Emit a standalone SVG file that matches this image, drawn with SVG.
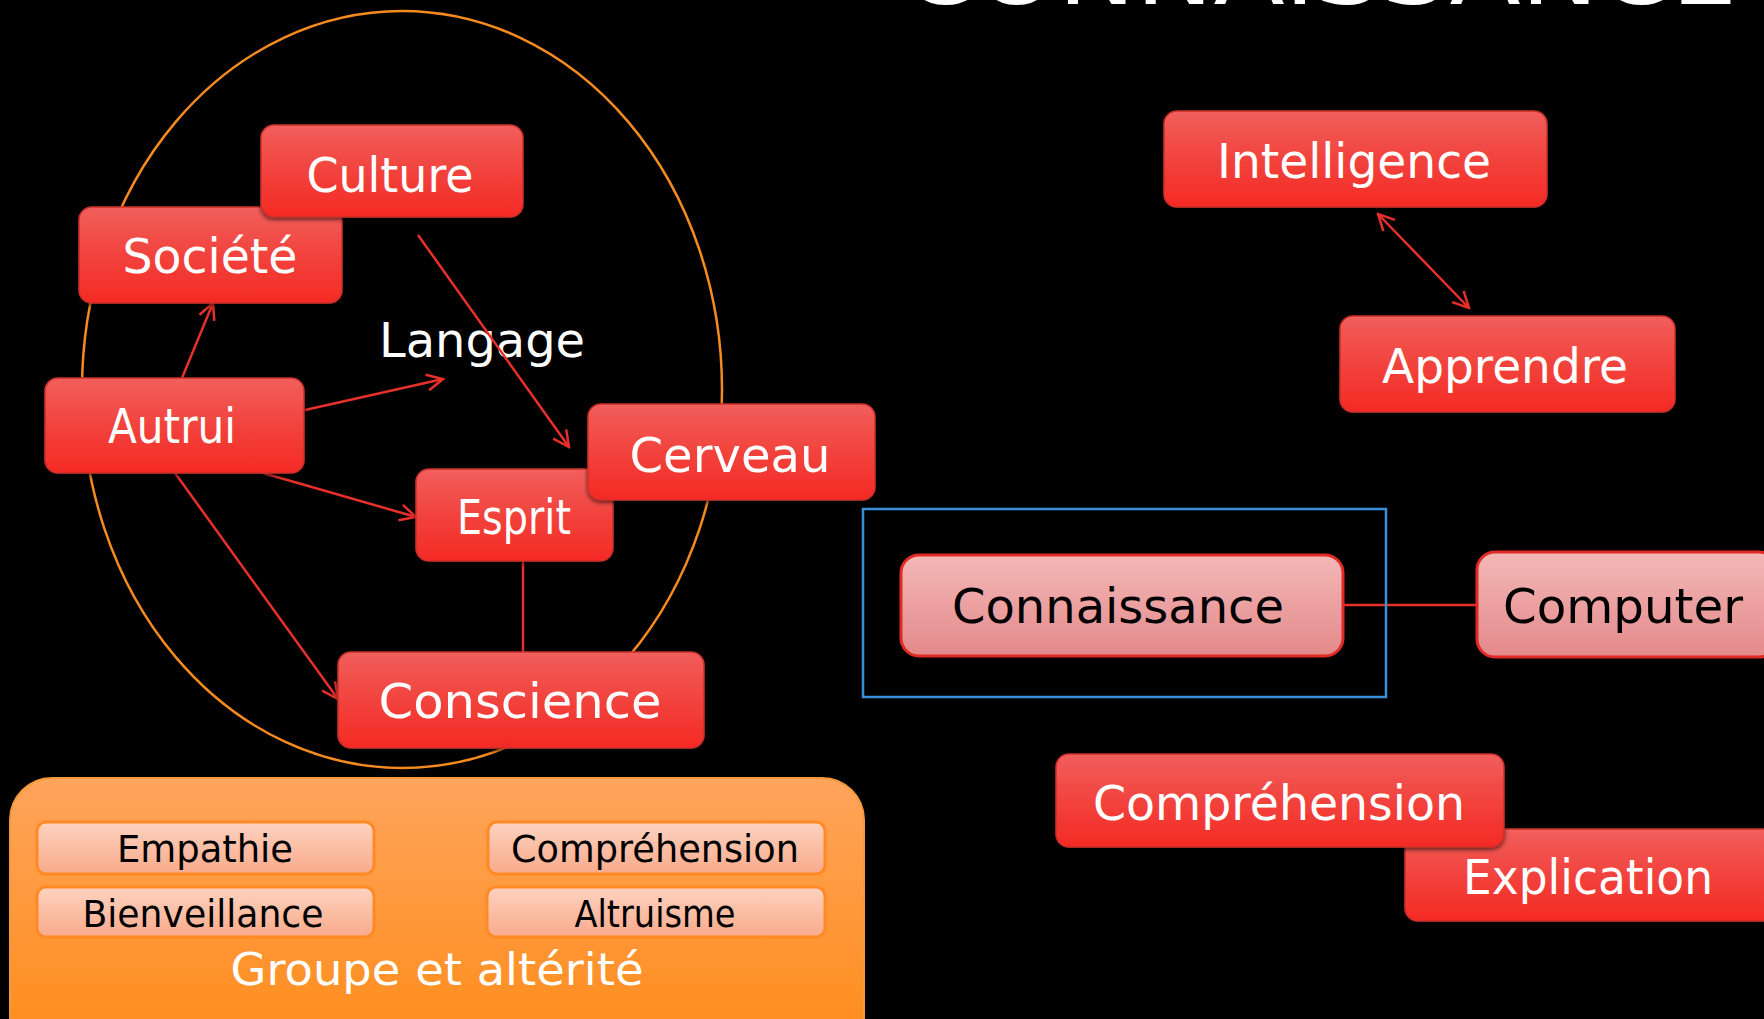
<svg xmlns="http://www.w3.org/2000/svg" width="1764" height="1019" viewBox="0 0 1764 1019">
<defs>
<linearGradient id="gRed" x1="0" y1="0" x2="0" y2="1">
<stop offset="0" stop-color="#f15f5c"/>
<stop offset="0.55" stop-color="#f2403a"/>
<stop offset="1" stop-color="#f52a25"/>
</linearGradient>
<linearGradient id="gPink" x1="0" y1="0" x2="0" y2="1">
<stop offset="0" stop-color="#f3b8b7"/>
<stop offset="1" stop-color="#e4898a"/>
</linearGradient>
<linearGradient id="gOrange" x1="0" y1="0" x2="0" y2="1">
<stop offset="0" stop-color="#ffa45c"/>
<stop offset="1" stop-color="#ff8b16"/>
</linearGradient>
<linearGradient id="gPeach" x1="0" y1="0" x2="0" y2="1">
<stop offset="0" stop-color="#fdd3c0"/>
<stop offset="1" stop-color="#f9aa8b"/>
</linearGradient>
<filter id="sh" x="-10%" y="-10%" width="120%" height="130%">
<feDropShadow dx="0" dy="2" stdDeviation="2" flood-color="#000" flood-opacity="0.6"/>
</filter>
<marker id="ah" viewBox="0 0 20 20" refX="18" refY="10" markerWidth="20" markerHeight="20" markerUnits="userSpaceOnUse" orient="auto-start-reverse">
<path d="M2,2 L18,10 L2,18" fill="none" stroke="#e8302a" stroke-width="2.5"/>
</marker>
<style>
.red{fill:url(#gRed);stroke:#c9302a;stroke-width:1.5;filter:url(#sh)}
.pink{fill:url(#gPink);stroke:#e02a26;stroke-width:3}
.peach{fill:url(#gPeach);stroke:#ff8a24;stroke-width:3}
.wt{fill:#ffffff;font-family:"DejaVu Sans","Liberation Sans",sans-serif;font-size:48px;text-anchor:middle}
.bt{fill:#000000;font-family:"DejaVu Sans","Liberation Sans",sans-serif;font-size:48px;text-anchor:middle}
.st{fill:#000000;font-family:"DejaVu Sans","Liberation Sans",sans-serif;font-size:37px;text-anchor:middle}
.con{stroke:#e8302a;stroke-width:2.5;fill:none}
</style>
</defs>
<rect x="0" y="0" width="1764" height="1019" fill="#000000"/>

<text x="1320" y="4" fill="#ffffff" font-family="DejaVu Sans, Liberation Sans, sans-serif" font-size="90" text-anchor="middle" textLength="834" lengthAdjust="spacingAndGlyphs">CONNAISSANCE</text>

<ellipse cx="402" cy="389.5" rx="320" ry="378.5" fill="none" stroke="#f58a1e" stroke-width="2.5"/>

<g id="groupe">
<rect x="10" y="778" width="854" height="280" rx="42" fill="url(#gOrange)" stroke="#f59a3a" stroke-width="2"/>
<g id="empathie"><rect class="peach" x="37" y="822" width="337" height="52" rx="9"/><text class="st" x="205" y="862" textLength="176" lengthAdjust="spacingAndGlyphs">Empathie</text></g>
<g id="comprehension-small"><rect class="peach" x="488" y="822" width="337" height="52" rx="9"/><text class="st" x="655" y="862" textLength="288" lengthAdjust="spacingAndGlyphs">Compréhension</text></g>
<g id="bienveillance"><rect class="peach" x="37" y="887" width="337" height="50" rx="9"/><text class="st" x="203" y="927" textLength="241" lengthAdjust="spacingAndGlyphs">Bienveillance</text></g>
<g id="altruisme"><rect class="peach" x="487" y="887" width="338" height="50" rx="9"/><text class="st" x="655" y="927" textLength="161" lengthAdjust="spacingAndGlyphs">Altruisme</text></g>
<text x="437" y="985" fill="#ffffff" font-family="DejaVu Sans, Liberation Sans, sans-serif" font-size="45" text-anchor="middle" textLength="413" lengthAdjust="spacingAndGlyphs">Groupe et altérité</text>
</g>

<g id="langage"><text class="wt" x="482" y="357" textLength="206" lengthAdjust="spacingAndGlyphs">Langage</text></g>

<g id="connectors">
<line class="con" x1="182" y1="378" x2="213" y2="303" marker-end="url(#ah)"/>
<line class="con" x1="305" y1="410" x2="443" y2="379" marker-end="url(#ah)"/>
<line class="con" x1="418" y1="235" x2="569" y2="447" marker-end="url(#ah)"/>
<line class="con" x1="263" y1="473" x2="416" y2="517" marker-end="url(#ah)"/>
<line class="con" x1="175" y1="473" x2="338" y2="699" marker-end="url(#ah)"/>
<line class="con" x1="523" y1="561" x2="523" y2="652"/>
<line class="con" x1="1378" y1="214" x2="1469" y2="308" marker-start="url(#ah)" marker-end="url(#ah)"/>
<line class="con" x1="1343" y1="605" x2="1477" y2="605"/>
</g>

<g id="societe"><rect class="red" x="79" y="207" width="263" height="96" rx="13"/><text class="wt" x="210" y="273" textLength="175" lengthAdjust="spacingAndGlyphs">Société</text></g>
<g id="culture"><rect class="red" x="261" y="125" width="262" height="92" rx="13"/><text class="wt" x="390" y="192" textLength="167" lengthAdjust="spacingAndGlyphs">Culture</text></g>
<g id="autrui"><rect class="red" x="45" y="378" width="259" height="95" rx="13"/><text class="wt" x="172" y="443" textLength="128" lengthAdjust="spacingAndGlyphs">Autrui</text></g>
<g id="esprit"><rect class="red" x="416" y="469" width="197" height="92" rx="13"/><text class="wt" x="514" y="534" textLength="114" lengthAdjust="spacingAndGlyphs">Esprit</text></g>
<g id="cerveau"><rect class="red" x="588" y="404" width="287" height="96" rx="13"/><text class="wt" x="730" y="472" textLength="201" lengthAdjust="spacingAndGlyphs">Cerveau</text></g>
<g id="conscience"><rect class="red" x="338" y="652" width="366" height="96" rx="13"/><text class="wt" x="520" y="718" textLength="283" lengthAdjust="spacingAndGlyphs">Conscience</text></g>

<g id="intelligence"><rect class="red" x="1164" y="111" width="383" height="96" rx="13"/><text class="wt" x="1354" y="178" textLength="274" lengthAdjust="spacingAndGlyphs">Intelligence</text></g>
<g id="apprendre"><rect class="red" x="1340" y="316" width="335" height="96" rx="13"/><text class="wt" x="1505" y="383" textLength="246" lengthAdjust="spacingAndGlyphs">Apprendre</text></g>

<rect id="cadre" x="863" y="509" width="523" height="188" fill="none" stroke="#3b8fd6" stroke-width="2.5"/>
<g id="connaissance"><rect class="pink" x="901" y="555" width="442" height="101" rx="18"/><text class="bt" x="1118" y="623" textLength="332" lengthAdjust="spacingAndGlyphs">Connaissance</text></g>
<g id="computer"><rect class="pink" x="1477" y="552" width="300" height="105" rx="18"/><text class="bt" x="1623" y="623" textLength="240" lengthAdjust="spacingAndGlyphs">Computer</text></g>

<g id="explication"><rect class="red" x="1405" y="829" width="370" height="92" rx="13"/><text class="wt" x="1588" y="894" textLength="250" lengthAdjust="spacingAndGlyphs">Explication</text></g>
<g id="comprehension"><rect class="red" x="1056" y="754" width="448" height="93" rx="13"/><text class="wt" x="1279" y="820" textLength="372" lengthAdjust="spacingAndGlyphs">Compréhension</text></g>
</svg>
